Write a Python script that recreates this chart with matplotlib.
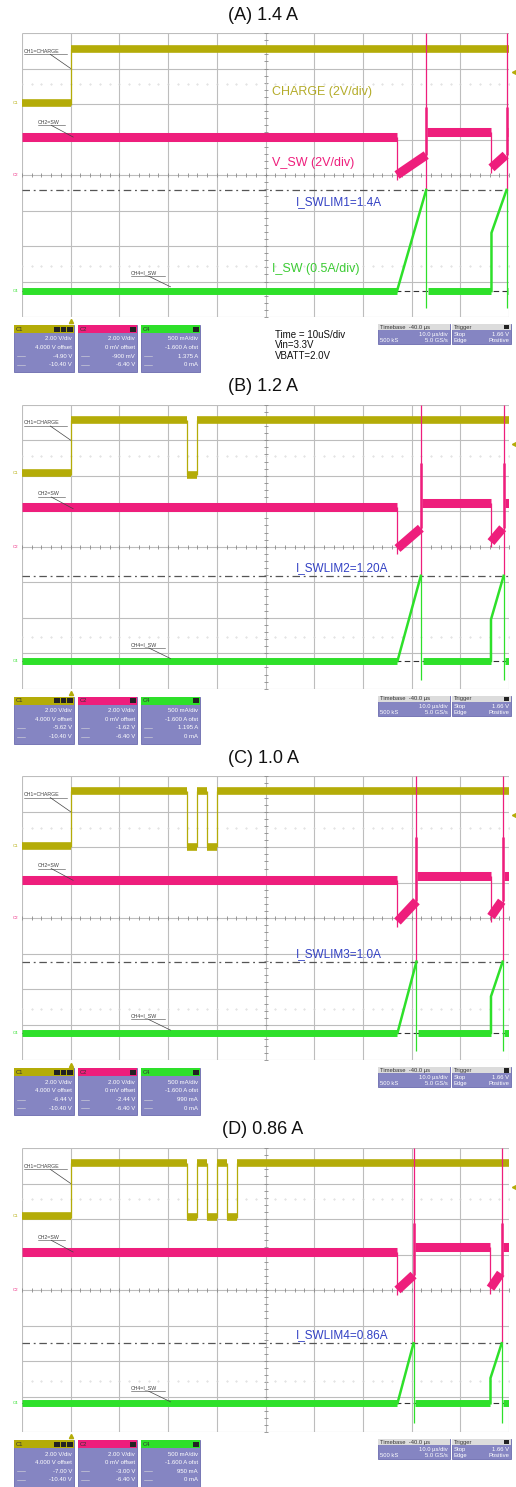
import matplotlib
matplotlib.use("Agg")
import matplotlib.pyplot as plt
from matplotlib.patches import Rectangle
import numpy as np

plt.rcParams['font.family'] = ['Liberation Sans', 'DejaVu Sans']

# ---- data (units: scope divisions, x 0..10, y 0..8) ----
titles = ["(A) 1.4 A", "(B) 1.2 A", "(C) 1.0 A", "(D) 0.86 A"]
limit_labels = ["I_SWLIM1=1.4A", "I_SWLIM2=1.20A", "I_SWLIM3=1.0A", "I_SWLIM4=0.86A"]
limit_level = [3.58, 3.18, 2.78, 2.50]

charge_high = [7.55, 7.58, 7.59, 7.57]
charge_low = [6.03, 6.07, 6.05, 6.09]
charge_rise = 1.0
charge_dips = [[],
               [(3.39, 3.59)],
               [(3.39, 3.59), (3.79, 4.00)],
               [(3.39, 3.60), (3.79, 4.01), (4.20, 4.41)]]

sw_off1 = [7.70, 7.71, 7.71, 7.71]
sw_on1 = [8.30, 8.19, 8.10, 8.04]
sw_off2 = [9.64, 9.63, 9.63, 9.62]
sw_on2 = [9.95, 9.89, 9.87, 9.85]
sw_high1 = [5.06, 5.12, 5.07, 5.08]
sw_high2 = [5.21, 5.22, 5.18, 5.22]
sw_low1 = [(4.00, 4.56), (3.95, 4.52), (3.91, 4.48), (4.00, 4.42)]
sw_low2 = [(4.20, 4.56), (4.13, 4.52), (4.05, 4.48), (4.05, 4.47)]
sw_spike = [5.92, 6.36, 6.30, 5.90]

isw_base = [0.73, 0.78, 0.77, 0.81]
isw_jump2 = [2.37, 1.95, 1.80, 1.52]

c1_vals = [["2.00 V/div", "4.000 V offset", "-4.90 V", "-10.40 V"],
           ["2.00 V/div", "4.000 V offset", "-5.62 V", "-10.40 V"],
           ["2.00 V/div", "4.000 V offset", "-6.44 V", "-10.40 V"],
           ["2.00 V/div", "4.000 V offset", "-7.00 V", "-10.40 V"]]
c2_vals = [["2.00 V/div", "0 mV offset", "-900 mV", "-6.40 V"],
           ["2.00 V/div", "0 mV offset", "-1.62 V", "-6.40 V"],
           ["2.00 V/div", "0 mV offset", "-2.44 V", "-6.40 V"],
           ["2.00 V/div", "0 mV offset", "-3.00 V", "-6.40 V"]]
c4_vals = [["500 mA/div", "-1.600 A ofst", "1.375 A", "0 mA"],
           ["500 mA/div", "-1.600 A ofst", "1.195 A", "0 mA"],
           ["500 mA/div", "-1.600 A ofst", "990 mA", "0 mA"],
           ["500 mA/div", "-1.600 A ofst", "950 mA", "0 mA"]]
timebase_lines = ["Timebase  -40.0 \u00b5s", "10.0 \u00b5s/div", "500 kS", "5.0 GS/s"]
trigger_lines = ["Trigger", "Stop", "1.66 V", "Edge", "Positive"]
info_lines = ["Time = 10uS/div", "Vin=3.3V", "VBATT=2.0V"]

# ---- styling ----
W, H = 516, 1487
YEL = '#b4ac08'
PINK = '#ee1e7c'
GRN = '#2ee02a'
BLUE = '#3341c4'
GRID = '#bdbdbd'
PURPLE = '#8585c2'

grid_left, grid_w, grid_h = 22, 487, 284
grid_tops = [33, 404.7, 776.3, 1148]

fig = plt.figure(figsize=(W / 100, H / 100), dpi=100)
ov = fig.add_axes([0, 0, 1, 1])
ov.set_xlim(0, W)
ov.set_ylim(H, 0)
ov.axis('off')


def readout(x0, y0, w, head, label, lines, icons):
    ov.add_patch(Rectangle((x0, y0), w, 47, fc=PURPLE, ec='#6c6cae', lw=0.6))
    ov.add_patch(Rectangle((x0, y0), w, 8, fc=head, ec='none'))
    ov.text(x0 + 2, y0 + 4.3, label, fontsize=4.2, color='#333', va='center')
    for k in range(icons):
        ov.add_patch(Rectangle((x0 + w - 7 - 6.5 * k, y0 + 1.5), 5.5, 5, fc='#222', ec='none'))
    for k, s in enumerate(lines):
        ov.text(x0 + w - 2, y0 + 14 + k * 8.6, s, fontsize=4.3, color='white',
                ha='right', va='center')
    ov.plot([x0 + 3, x0 + 11], [y0 + 31.2, y0 + 31.2], color='#dddddd', lw=0.4)
    ov.plot([x0 + 3, x0 + 11], [y0 + 39.8, y0 + 39.8], color='#dddddd', lw=0.4)


for i in range(4):
    top = grid_tops[i]
    bot = top + grid_h
    ax = fig.add_axes([grid_left / W, 1 - bot / H, grid_w / W, grid_h / H])
    ax.set_xlim(0, 10)
    ax.set_ylim(0, 8)
    ax.axis('off')

    # title
    ov.text(263, top - 18, titles[i], fontsize=13, ha='center', va='center', color='#111')

    # graticule
    ax.vlines(np.arange(0, 11), 0, 8, color=GRID, lw=0.8, zorder=1)
    ax.hlines(np.arange(0, 9), 0, 10, color=GRID, lw=0.8, zorder=1)
    tx = np.arange(0, 10.01, 0.2)
    ty = np.arange(0, 8.01, 0.2)
    ax.plot(tx, np.full_like(tx, 4), ls='none', marker='|', ms=2.6, mew=0.6, color='#8a8a8a', zorder=1)
    ax.plot(np.full_like(ty, 5), ty, ls='none', marker='_', ms=2.6, mew=0.6, color='#8a8a8a', zorder=1)
    for yd in (6.55, 1.45):
        ax.plot(tx, np.full_like(tx, yd), ls='none', marker='.', ms=0.8, color='#d4d4d4', zorder=1)

    # limit line and I_SW ground dashes
    ax.hlines(limit_level[i], 0, 10, color='#555', lw=0.9, linestyles=[(0, (6, 3, 1.5, 3))], zorder=2)
    ax.hlines(isw_base[i], 0, 10, color='#333', lw=0.8, linestyles=[(0, (5, 3))], zorder=2)

    # CH1 CHARGE trace
    hi, lo = charge_high[i], charge_low[i]
    edges = [charge_rise]
    for a, b in charge_dips[i]:
        edges += [a, b]
    bounds = [0] + edges + [10]
    for k in range(len(bounds) - 1):
        lev = lo if k % 2 == 0 else hi
        if k > 0 and k % 2 == 0:
            lev = lo - 0.04
        ax.hlines(lev, bounds[k], bounds[k + 1], color=YEL, lw=5.5, zorder=4)
    ax.vlines(edges, lo - 0.05, hi, color=YEL, lw=0.9, zorder=4)

    # CH2 SW trace
    o1, n1, o2, n2 = sw_off1[i], sw_on1[i], sw_off2[i], sw_on2[i]
    ax.hlines(sw_high1[i], 0, o1, color=PINK, lw=6.5, zorder=5)
    ax.hlines(sw_high2[i], n1 + 0.02, o2, color=PINK, lw=6.5, zorder=5)
    ax.hlines(sw_high2[i], n2 + 0.02, 10, color=PINK, lw=6.5, zorder=5)
    ax.plot([o1, n1], list(sw_low1[i]), color=PINK, lw=6.5, solid_capstyle='butt', zorder=5)
    ax.plot([o2, n2 - 0.02], list(sw_low2[i]), color=PINK, lw=6.5, solid_capstyle='butt', zorder=5)
    ax.vlines([o1, o2], [sw_low1[i][0] - 0.15, sw_low2[i][0] - 0.15], [sw_high1[i], sw_high2[i]],
              color=PINK, lw=0.9, zorder=5)
    ax.vlines([n1, n2], limit_level[i], 8, color=PINK, lw=0.9, zorder=5)
    ax.vlines([n1, n2], sw_low1[i][1], sw_spike[i], color=PINK, lw=1.8, zorder=5)

    # CH4 I_SW trace
    base = isw_base[i]
    ax.hlines(base, 0, o1, color=GRN, lw=5, zorder=6)
    ax.hlines(base, n1 + 0.04, o2, color=GRN, lw=5, zorder=6)
    ax.hlines(base, n2 + 0.03, 10, color=GRN, lw=5, zorder=6)
    ax.plot([o1, n1], [base, limit_level[i]], color=GRN, lw=1.8, zorder=6)
    ax.plot([o2, o2, n2], [base, isw_jump2[i], limit_level[i]], color=GRN, lw=1.8, zorder=6)
    ax.vlines([n1, n2], 0.25, limit_level[i], color=GRN, lw=0.9, zorder=6)

    # channel markers
    ax.text(-0.08, lo, "C1", fontsize=3.2, color=YEL, ha='right', va='center', clip_on=False)
    ax.text(-0.08, 4.0, "C2", fontsize=3.2, color=PINK, ha='right', va='center', clip_on=False)
    ax.text(-0.08, base, "C4", fontsize=3.2, color=GRN, ha='right', va='center', clip_on=False)
    ax.plot([10.1], [6.9], marker='<', ms=3, color=YEL, clip_on=False)
    ax.plot([charge_rise], [-0.12], marker='^', ms=3, color=YEL, clip_on=False)

    # small channel tags with leader lines
    ax.text(0.04, 7.42, "CH1=CHARGE", fontsize=3.8, color='#444', va='bottom')
    ax.plot([0.04, 0.92], [7.40, 7.40], color='#444', lw=0.4)
    ax.plot([0.58, 1.0], [7.40, 7.0], color='#444', lw=0.5)
    ax.text(0.33, 5.42, "CH2=SW", fontsize=3.8, color='#444', va='bottom')
    ax.plot([0.33, 0.88], [5.40, 5.40], color='#444', lw=0.4)
    ax.plot([0.6, 1.05], [5.40, 5.07], color='#444', lw=0.5, zorder=7)
    ax.text(2.24, 1.17, "CH4=I_SW", fontsize=3.8, color='#444', va='bottom')
    ax.plot([2.24, 2.94], [1.15, 1.15], color='#444', lw=0.4)
    ax.plot([2.6, 3.05], [1.15, 0.85], color='#444', lw=0.5, zorder=7)

    # limit label
    ly = 3.24 if i == 0 else limit_level[i] + 0.22
    ax.text(5.63, ly, limit_labels[i], fontsize=8.5, color=BLUE, va='center', zorder=8)

    if i == 0:
        ax.text(5.13, 6.34, "CHARGE (2V/div)", fontsize=9, color='#b4ac2a', va='center', zorder=8)
        ax.text(5.13, 4.34, "V_SW (2V/div)", fontsize=9, color=PINK, va='center', zorder=8)
        ax.text(5.13, 1.35, "I_SW (0.5A/div)", fontsize=9, color='#3ccc34', va='center', zorder=8)
        for k, s in enumerate(info_lines):
            ov.text(275, bot + 18 + k * 10.5, s, fontsize=7, color='#111', va='center')

    # readout boxes below the graticule
    by = bot + 8
    readout(14, by, 60, YEL, "C1", c1_vals[i], 3)
    readout(78, by, 59, PINK, "C2", c2_vals[i], 1)
    readout(141, by, 59, GRN, "C4", c4_vals[i], 1)

    # timebase / trigger boxes
    ty0 = bot + 7
    ov.add_patch(Rectangle((378, ty0), 72, 20, fc=PURPLE, ec='#6c6cae', lw=0.6))
    ov.add_patch(Rectangle((378, ty0), 72, 6, fc='#dcdcdc', ec='none'))
    ov.text(380, ty0 + 3.2, timebase_lines[0], fontsize=4.2, color='#333', va='center')
    ov.text(448, ty0 + 10.5, timebase_lines[1], fontsize=4.2, color='white', ha='right', va='center')
    ov.text(380, ty0 + 16.5, timebase_lines[2], fontsize=4.2, color='white', va='center')
    ov.text(448, ty0 + 16.5, timebase_lines[3], fontsize=4.2, color='white', ha='right', va='center')
    ov.add_patch(Rectangle((452, ty0), 59, 20, fc=PURPLE, ec='#6c6cae', lw=0.6))
    ov.add_patch(Rectangle((452, ty0), 59, 6, fc='#dcdcdc', ec='none'))
    ov.add_patch(Rectangle((504, ty0 + 0.8), 5, 4.5, fc='#222', ec='none'))
    ov.text(454, ty0 + 3.2, trigger_lines[0], fontsize=4.2, color='#333', va='center')
    ov.text(454, ty0 + 10.5, trigger_lines[1], fontsize=4.2, color='white', va='center')
    ov.text(509, ty0 + 10.5, trigger_lines[2], fontsize=4.2, color='white', ha='right', va='center')
    ov.text(454, ty0 + 16.5, trigger_lines[3], fontsize=4.2, color='white', va='center')
    ov.text(509, ty0 + 16.5, trigger_lines[4], fontsize=4.2, color='white', ha='right', va='center')

fig.savefig("out.png", dpi=100)
